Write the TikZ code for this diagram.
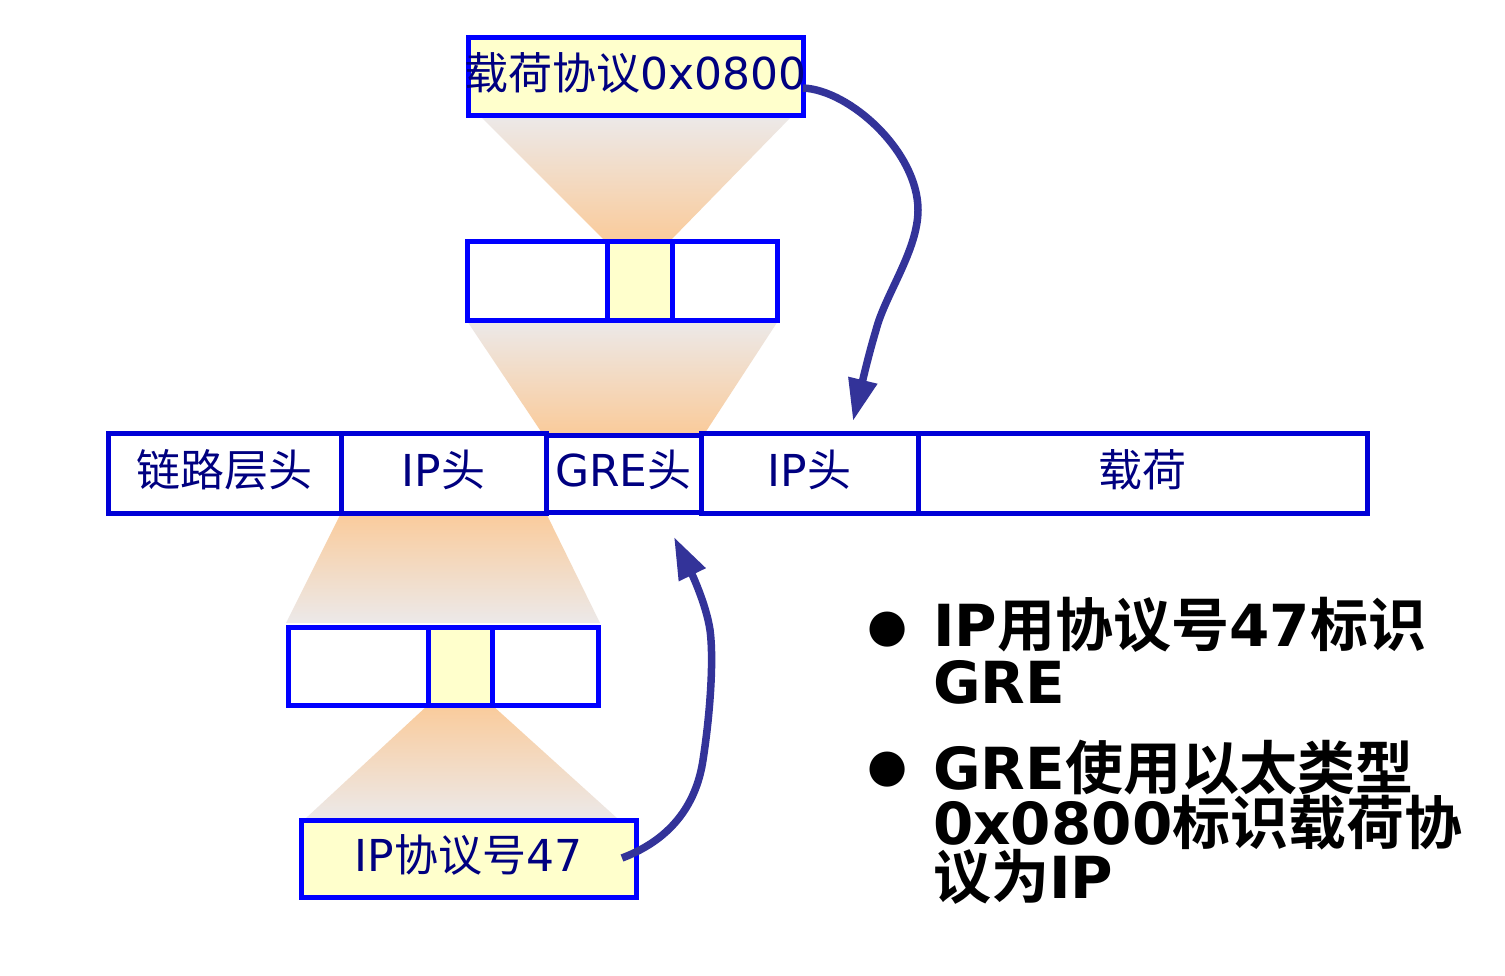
\documentclass[tikz,border=0pt]{standalone}
\usepackage{fontspec}
\setmainfont{DejaVu Sans}
\newfontfamily\cjk{Noto Sans CJK SC}[BoldFont={Noto Sans CJK SC Bold}]
\usetikzlibrary{arrows.meta}
\newcommand{\zh}[1]{{\cjk #1}}
\newcommand{\labfont}{\fontsize{44}{44}\selectfont}
\newcommand{\bulfont}{\fontsize{58}{58}\selectfont\bfseries}
\definecolor{bbox}{RGB}{0,0,255}
\definecolor{bmain}{RGB}{0,0,215}
\definecolor{ylw}{RGB}{255,255,204}
\definecolor{navy}{RGB}{0,0,128}
\definecolor{arrc}{RGB}{51,51,153}
\definecolor{gry}{RGB}{236,233,233}
\definecolor{org}{RGB}{250,203,155}
\tikzset{
  cellbox/.style={draw=bbox, line width=5pt, inner sep=0pt, outer sep=0pt,
    text=navy, font=\labfont, text height=32pt, text depth=6pt},
  mainbox/.style={cellbox, draw=bmain, minimum height=80pt},
  fanin/.style={top color=gry, bottom color=org},
  fanout/.style={top color=org, bottom color=gry},
  arr/.style={draw=arrc, line width=7.5pt, -{Triangle[length=42pt,width=28pt]}},
  bline/.style={font=\bulfont, anchor=base west, inner sep=0pt, text=black},
  dot/.style={font=\fontsize{46}{46}\selectfont, inner sep=0pt, text=black}
}
\begin{document}
\begin{tikzpicture}[x=1pt,y=-1pt]
\fill[white] (0,0) rectangle (1505,975);
\useasboundingbox (0,0) rectangle (1505,975);

% gradient fans
\shade[fanin] (480,116) -- (792,116) -- (670,241) -- (605,241) -- cycle;
\shade[fanin] (467,321) -- (778,321) -- (705,433) -- (542,433) -- cycle;
\shade[fanout] (341,513) -- (546,513) -- (600,623) -- (286,623) -- cycle;
\shade[fanout] (428,705) -- (492,705) -- (618,819) -- (305,819) -- cycle;

% top payload-protocol box
\node[cellbox, fill=ylw, minimum width=335pt, minimum height=78pt] (pl) at (635.5,76) {};
\node[text=navy, font=\labfont, inner sep=0pt, text height=32pt, text depth=6pt] (plt) at (635.5,76) {\zh{载荷协议}0x0800};

% upper small header
\node[cellbox, minimum width=140pt, minimum height=79pt] (u1) at (537,280.5) {};
\node[cellbox, minimum width=105pt, minimum height=79pt] (u3) at (724.5,280.5) {};
\node[cellbox, fill=ylw, minimum width=65pt, minimum height=79pt] (u2) at (639.5,280.5) {};

% main packet row
\node[mainbox, minimum width=233pt] (c1) at (224.5,473) {\zh{链路层头}};
\node[mainbox, minimum width=205pt] (c2) at (443.5,473) {IP\zh{头}};
\node[mainbox, minimum width=217pt] (c4) at (809.5,473) {IP\zh{头}};
\node[mainbox, minimum width=449pt] (c5) at (1142.5,473) {\zh{载荷}};
\node[cellbox, draw=bmain, minimum width=155pt, minimum height=77pt] (c3) at (623.5,473.5) {GRE\zh{头}};

% lower small header
\node[cellbox, minimum width=140pt, minimum height=78pt] (l1) at (358,666) {};
\node[cellbox, minimum width=106pt, minimum height=78pt] (l3) at (545,666) {};
\node[cellbox, fill=ylw, minimum width=64pt, minimum height=78pt] (l2) at (460,666) {};

% bottom protocol-number box
\node[cellbox, fill=ylw, minimum width=335pt, minimum height=77pt] (ipn) at (468.5,858.5) {IP\zh{协议号}47};

% arrows
\coordinate (a1s) at (803,88);
\coordinate (a1e) at (853,421);
\coordinate (a2s) at (622,858);
\coordinate (a2e) at (674,537);
\draw[arr] (a1s) .. controls (850,90) and (918,152) .. (918,210)
  .. controls (918,250) and (885,295) .. (876,330)
  .. controls (867,360) and (860,392) .. (a1e);
\draw[arr] (a2s) .. controls (675,838) and (697,800) .. (703,760)
  .. controls (710,715) and (714,660) .. (710,630)
  .. controls (706,603) and (690,570) .. (a2e);

% bullet text
\node[dot] (d1) at (888,630) {●};
\node[bline] (b1a) at (933,646) {IP\zh{用协议号}47\zh{标识}};
\node[bline] (b1b) at (933,703) {GRE};
\node[dot] (d2) at (888,770) {●};
\node[bline] (b2a) at (933,789) {GRE\zh{使用以太类型}};
\node[bline] (b2b) at (933,844) {0x0800\zh{标识载荷协}};
\node[bline] (b2c) at (933,898) {\zh{议为}IP};
\end{tikzpicture}
\end{document}
